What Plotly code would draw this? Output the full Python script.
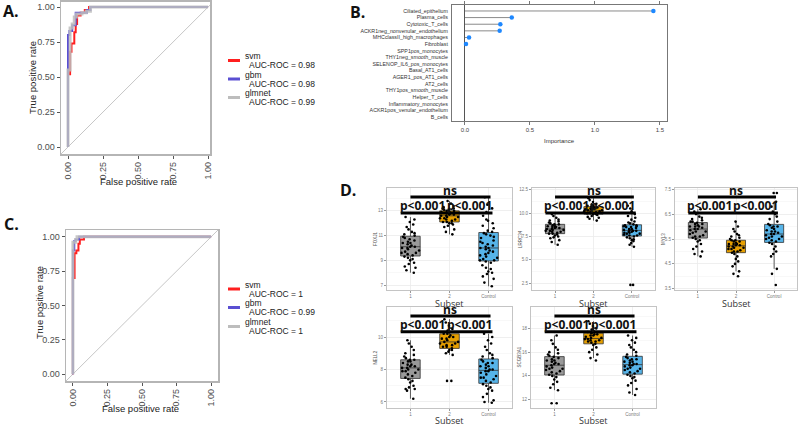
import plotly.graph_objects as go

W, H = 800, 426

# ---------------- Panels A / C : ROC curves ----------------
models = ["svm", "gbm", "glmnet"]
auc_A = ["0.98", "0.98", "0.99"]
auc_C = ["1", "0.99", "1"]

fpr_A_svm = [0, 0, 0.015, 0.025, 0.045, 0.055, 0.065, 0.09, 0.12, 0.15, 1.0]
tpr_A_svm = [0, 0.52, 0.68, 0.74, 0.82, 0.88, 0.94, 0.96, 0.98, 1.0, 1.0]
fpr_A_gbm = [0, 0, 0.01, 0.03, 0.055, 0.135, 0.16, 1.0]
tpr_A_gbm = [0, 0.80, 0.83, 0.87, 0.96, 0.98, 1.0, 1.0]
fpr_A_glmnet = [0, 0, 0.015, 0.03, 0.045, 0.06, 0.10, 0.13, 0.16, 1.0]
tpr_A_glmnet = [0, 0.55, 0.85, 0.88, 0.93, 0.95, 0.96, 0.97, 1.0, 1.0]

fpr_C_svm = [0, 0, 0.012, 0.025, 0.04, 0.05, 0.08, 1.0]
tpr_C_svm = [0, 0.70, 0.88, 0.90, 0.95, 0.98, 1.0, 1.0]
fpr_C_gbm = [0, 0, 0.01, 0.02, 0.045, 1.0]
tpr_C_gbm = [0, 0.90, 0.97, 0.98, 1.0, 1.0]
fpr_C_glmnet = [0, 0, 0.02, 0.03, 1.0]
tpr_C_glmnet = [0, 0.96, 0.98, 1.0, 1.0]

roc_ticks = [0, 0.25, 0.5, 0.75, 1.0]

# ---------------- Panel B : variable importance ----------------
cell_types = ["Ciliated_epithelium", "Plasma_cells", "Cytotoxic_T_cells",
              "ACKR1neg_nonvenular_endothelium", "MHCclassII_high_macrophages",
              "Fibroblast", "SPP1pos_monocytes", "THY1neg_smooth_muscle",
              "SELENOP_IL6_pos_monocytes", "Basal_AT1_cells", "AGER1_pos_AT1_cells",
              "AT2_cells", "THY1pos_smooth_muscle", "Helper_T_cells",
              "Inflammatory_monocytes", "ACKR1pos_venular_endothelium", "B_cells"]
importance = [1.45, 0.36, 0.272, 0.267, 0.031, 0.008, 0, 0, 0, 0, 0, 0, 0, 0, 0, 0, 0]
importance_ticks = [0.0, 0.5, 1.0, 1.5]

# ---------------- Panel D : expression box plots ----------------
genes = ["FOXJ1", "LRRC34", "MYL3", "NELL2", "SCGB3A1"]
subsets = ["1", "2", "Control"]

FOXJ1_1 = [8.0, 8.2, 8.4, 8.5, 8.7, 8.8, 9.0, 9.1, 9.2, 9.3, 9.4, 9.5, 9.6, 9.7, 9.8, 9.9, 10.0, 10.0,
           10.1, 10.1, 10.2, 10.3, 10.4, 10.5, 10.6, 10.7, 10.8, 10.9, 11.0, 11.1, 11.2, 11.3, 11.5,
           11.7, 11.9, 12.1, 12.3, 12.5, 9.6, 10.4]
FOXJ1_2 = [11.1, 11.3, 11.5, 11.7, 11.8, 11.9, 12.0, 12.1, 12.1, 12.2, 12.3, 12.4, 12.4, 12.5, 12.5,
           12.6, 12.6, 12.7, 12.7, 12.8, 12.8, 12.9, 13.0, 13.0, 13.1, 13.1, 13.2, 13.3, 13.4, 13.6,
           13.8, 12.3, 12.9, 12.0, 13.2]
FOXJ1_C = [6.9, 7.2, 7.5, 7.7, 7.9, 8.1, 8.3, 8.4, 8.6, 8.8, 8.9, 9.0, 9.1, 9.2, 9.3, 9.4, 9.5, 9.6,
           9.7, 9.8, 9.9, 10.0, 10.0, 10.1, 10.2, 10.3, 10.5, 10.6, 10.8, 10.9, 11.0, 11.2, 11.3, 11.4,
           11.6, 11.8, 12.0, 12.3, 12.6, 12.9, 13.2, 13.5, 14.1, 8.0, 9.0, 10.4, 11.1, 12.2]

LRRC34_1 = [6.6, 6.9, 7.1, 7.3, 7.5, 7.6, 7.7, 7.8, 7.8, 7.9, 8.0, 8.0, 8.1, 8.2, 8.2, 8.3, 8.3, 8.4,
            8.4, 8.5, 8.6, 8.6, 8.7, 8.8, 8.8, 8.9, 9.0, 9.1, 9.2, 9.3, 9.5, 9.7, 9.9, 8.1, 8.5, 7.4]
LRRC34_2 = [9.2, 9.4, 9.5, 9.6, 9.7, 9.8, 9.9, 10.0, 10.1, 10.1, 10.2, 10.3, 10.3, 10.4, 10.4, 10.5,
            10.6, 10.6, 10.7, 10.8, 10.9, 11.0, 11.2, 11.4, 11.6, 10.2, 10.5, 9.9, 10.8, 10.0]
LRRC34_C = [2.3, 2.3, 6.4, 6.6, 6.8, 7.0, 7.1, 7.2, 7.3, 7.4, 7.5, 7.6, 7.7, 7.8, 7.8, 7.9, 8.0, 8.0,
            8.1, 8.1, 8.2, 8.3, 8.3, 8.4, 8.5, 8.5, 8.6, 8.7, 8.7, 8.8, 8.9, 9.0, 9.1, 9.3, 9.5, 9.7,
            9.9, 10.2, 10.5, 10.8, 7.6, 8.2, 8.6, 7.9]

MYL3_1 = [4.8, 4.9, 5.0, 5.1, 5.2, 5.3, 5.4, 5.45, 5.5, 5.55, 5.6, 5.65, 5.7, 5.75, 5.8, 5.85, 5.9,
          5.9, 5.95, 6.0, 6.0, 6.05, 6.1, 6.1, 6.15, 6.2, 6.2, 6.25, 6.3, 6.35, 6.4, 6.5, 6.6, 5.8,
          6.0, 5.6, 6.7]
MYL3_2 = [4.0, 4.1, 4.2, 4.4, 4.5, 4.6, 4.7, 4.8, 4.9, 4.95, 5.0, 5.05, 5.1, 5.1, 5.15, 5.2, 5.2,
          5.25, 5.25, 5.3, 5.3, 5.35, 5.4, 5.4, 5.45, 5.5, 5.55, 5.6, 5.65, 5.7, 5.8, 5.9, 6.0, 6.2,
          5.3, 5.15, 5.0, 5.45]
MYL3_C = [3.65, 4.1, 4.3, 4.8, 4.9, 5.0, 5.1, 5.2, 5.3, 5.35, 5.4, 5.45, 5.5, 5.55, 5.6, 5.65, 5.7,
          5.7, 5.75, 5.8, 5.85, 5.9, 5.95, 6.0, 6.05, 6.1, 6.2, 6.3, 6.4, 6.5, 6.6, 6.8, 7.0, 7.35,
          7.35, 5.6, 5.8, 5.5, 6.0]

NELL2_1 = [6.2, 6.7, 6.8, 6.9, 7.0, 7.2, 7.3, 7.4, 7.5, 7.6, 7.7, 7.8, 7.9, 8.0, 8.0, 8.1, 8.1, 8.2,
           8.2, 8.3, 8.4, 8.5, 8.5, 8.6, 8.7, 8.8, 8.9, 9.0, 9.2, 9.4, 9.6, 9.8, 8.3, 7.9, 6.8, 8.6]
NELL2_2 = [7.3, 7.3, 8.9, 9.0, 9.1, 9.2, 9.2, 9.3, 9.4, 9.5, 9.5, 9.6, 9.7, 9.7, 9.8, 9.9, 10.0,
           10.1, 10.2, 10.2, 10.3, 10.4, 10.5, 10.7, 10.9, 11.1, 9.6, 9.9, 9.4, 10.0]
NELL2_C = [5.95, 6.1, 6.3, 6.5, 6.7, 6.8, 6.9, 7.0, 7.1, 7.2, 7.3, 7.4, 7.5, 7.6, 7.7, 7.8, 7.9, 8.0,
           8.0, 8.1, 8.2, 8.3, 8.4, 8.5, 8.6, 8.7, 8.8, 8.9, 9.0, 9.2, 9.4, 9.6, 9.8, 10.0, 10.2, 7.5,
           8.2, 7.9, 8.4, 6.0]

SCGB3A1_1 = [11.7, 11.7, 12.8, 13.0, 13.3, 13.5, 13.7, 13.9, 14.0, 14.1, 14.2, 14.3, 14.4, 14.5,
             14.6, 14.7, 14.8, 14.9, 15.0, 15.0, 15.1, 15.2, 15.3, 15.4, 15.5, 15.6, 15.7, 15.8,
             15.9, 16.0, 16.2, 16.4, 16.7, 17.0, 17.4, 15.3, 14.6]
SCGB3A1_2 = [15.3, 15.5, 15.8, 16.0, 16.2, 16.4, 16.6, 16.7, 16.8, 16.9, 17.0, 17.0, 17.1, 17.2,
             17.2, 17.3, 17.4, 17.5, 17.5, 17.6, 17.7, 17.8, 17.9, 18.0, 18.2, 18.4, 18.6, 17.1,
             17.4, 16.9]
SCGB3A1_C = [12.4, 12.6, 12.9, 13.2, 13.4, 13.6, 13.8, 13.9, 14.0, 14.1, 14.2, 14.3, 14.4, 14.5,
             14.6, 14.7, 14.8, 14.9, 15.0, 15.0, 15.1, 15.2, 15.3, 15.4, 15.5, 15.6, 15.7, 15.8,
             16.0, 16.2, 16.4, 16.6, 16.8, 17.0, 17.2, 17.4, 14.9, 15.2, 14.6, 15.4]

sig_labels = ["ns", "p<0.001", "p<0.001"]

# ---------------- styling / layout helpers ----------------
model_colors = ["#FF1F1F", "#5A4FD2", "#BDBDBD"]
model_widths = [2.0, 2.0, 3.0]
subset_colors = ["#999999", "#E69F00", "#56B4E9"]
FONT = "Liberation Sans"


def PX(x):
    return x / W


def PY(y):
    return 1 - y / H


fig = go.Figure()

# ROC panels
roc_sets = {
    "A": ([(fpr_A_svm, tpr_A_svm), (fpr_A_gbm, tpr_A_gbm), (fpr_A_glmnet, tpr_A_glmnet)], "x", "y"),
    "C": ([(fpr_C_svm, tpr_C_svm), (fpr_C_gbm, tpr_C_gbm), (fpr_C_glmnet, tpr_C_glmnet)], "x3", "y3"),
}
for key, (curves, xa, ya) in roc_sets.items():
    fig.add_trace(go.Scatter(x=[-0.2, 1.2], y=[-0.2, 1.2], mode="lines",
                             line=dict(color="#b8b8b8", width=0.8),
                             xaxis=xa, yaxis=ya, showlegend=False, hoverinfo="skip"))
    for i, (fx, ty) in enumerate(curves):
        fig.add_trace(go.Scatter(x=fx, y=ty, mode="lines", name=models[i],
                                 line=dict(color=model_colors[i], width=model_widths[i], shape="hv"),
                                 opacity=0.85 if i == 2 else 1.0,
                                 xaxis=xa, yaxis=ya, showlegend=False))

# Importance panel (lollipops)
seg_x, seg_y = [], []
for c, v in zip(cell_types, importance):
    seg_x += [0, v, None]
    seg_y += [c, c, None]
fig.add_trace(go.Scatter(x=seg_x, y=seg_y, mode="lines", line=dict(color="#8a8a8a", width=1),
                         xaxis="x2", yaxis="y2", showlegend=False, hoverinfo="skip"))
pos = [(c, v) for c, v in zip(cell_types, importance) if v > 0]
fig.add_trace(go.Scatter(x=[p[1] for p in pos], y=[p[0] for p in pos], mode="markers",
                         marker=dict(color="#1E88FF", size=4.5),
                         xaxis="x2", yaxis="y2", showlegend=False))

# Box plots
gene_groups = {
    "FOXJ1": [FOXJ1_1, FOXJ1_2, FOXJ1_C],
    "LRRC34": [LRRC34_1, LRRC34_2, LRRC34_C],
    "MYL3": [MYL3_1, MYL3_2, MYL3_C],
    "NELL2": [NELL2_1, NELL2_2, NELL2_C],
    "SCGB3A1": [SCGB3A1_1, SCGB3A1_2, SCGB3A1_C],
}
for k, g in enumerate(genes):
    n = 4 + k
    for j, s in enumerate(subsets):
        vals = gene_groups[g][j]
        fig.add_trace(go.Box(x=[s] * len(vals), y=vals, name=s,
                             xaxis=f"x{n}", yaxis=f"y{n}",
                             boxpoints="all", jitter=1.0, pointpos=0, width=0.5,
                             whiskerwidth=0, fillcolor=subset_colors[j],
                             line=dict(color="#333333", width=0.8),
                             marker=dict(color="black", size=2.6),
                             showlegend=False))

layout = dict(
    width=W, height=H, autosize=False,
    margin=dict(l=0, r=0, t=0, b=0, pad=0),
    paper_bgcolor="white", plot_bgcolor="white",
    font=dict(family=FONT, color="#222"),
    showlegend=False, boxmode="overlay",
)

# ROC axes
roc_axes = {
    "A": ("xaxis", "yaxis", "x", "y", (61, 210), (1.5, 154), [-0.05, 1.014], [-0.05, 1.04]),
    "C": ("xaxis3", "yaxis3", "x3", "y3", (66, 218), (230, 381), [-0.05, 1.05], [-0.05, 1.05]),
}
for key, (xn, yn, xa, ya, (x0, x1), (y0, y1), xr, yr) in roc_axes.items():
    common = dict(showline=True, mirror=True, linecolor="#b5b5b5", linewidth=1.5,
                  showgrid=False, zeroline=False, ticks="outside", ticklen=3,
                  tickcolor="#555", tickvals=roc_ticks, tickformat=".2f", automargin=False,
                  tickfont=dict(size=9, color="#4d4d4d", family=FONT))
    layout[xn] = dict(common, domain=[PX(x0), PX(x1)], anchor=ya, range=xr, tickangle=-90)
    layout[yn] = dict(common, domain=[PY(y1), PY(y0)], anchor=xa, range=yr)

# Importance axes
layout["xaxis2"] = dict(domain=[PX(452), PX(667)], anchor="y2", range=[-0.1, 1.555],
                        tickvals=importance_ticks, tickformat=".1f", automargin=False,
                        showline=True, mirror="ticks", linecolor="#777", linewidth=1,
                        ticks="outside", ticklen=3, tickcolor="#777",
                        showgrid=False, zeroline=True, zerolinecolor="#555", zerolinewidth=1,
                        tickfont=dict(size=6, color="#444"))
layout["yaxis2"] = dict(domain=[PY(121), PY(5)], anchor="x2", type="category",
                        categoryorder="array", categoryarray=cell_types,
                        range=[len(cell_types) - 0.4, -0.9], automargin=False,
                        showline=True, mirror=True, linecolor="#777", linewidth=1,
                        ticks="", showgrid=False, ticklabelstandoff=2,
                        tickfont=dict(size=5.3, color="#333"))

# Box plot axes
D_boxes = [(387, 512, 188, 290), (532, 655, 188, 290), (675, 797, 188, 290),
           (387, 512, 307, 408), (531, 656, 307, 408)]
D_yranges = [(6.6, 14.85), (1.75, 12.7), (3.45, 7.55), (5.63, 11.85), (11.3, 19.8)]
D_ticks = [(7, 2, "d"), (2.5, 2.5, ".1f"), (3.5, 1, ".1f"), (6, 2, "d"), (12, 2, "d")]
for k in range(5):
    n = 4 + k
    x0, x1, y0, y1 = D_boxes[k]
    t0, dt, fmt = D_ticks[k]
    base = dict(showline=True, mirror=True, linecolor="#c4c4c4", linewidth=1,
                showgrid=True, gridcolor="#ebebeb", gridwidth=0.8, zeroline=False,
                ticks="outside", ticklen=2, tickcolor="#999", automargin=False,
                tickfont=dict(size=4.5, color="#777"))
    layout[f"xaxis{n}"] = dict(base, domain=[PX(x0), PX(x1)], anchor=f"y{n}", type="category",
                               categoryorder="array", categoryarray=subsets, range=[-0.6, 2.6])
    layout[f"yaxis{n}"] = dict(base, domain=[PY(y1), PY(y0)], anchor=f"x{n}",
                               range=list(D_yranges[k]), tick0=t0, dtick=dt, tickformat=fmt,
                               minor=dict(tick0=t0, dtick=dt / 2, showgrid=True,
                                          gridcolor="#f4f4f4", gridwidth=0.6))

shapes = []
annotations = []


def note(**kw):
    kw.setdefault("xanchor", "center")
    kw.setdefault("yanchor", "middle")
    kw.setdefault("showarrow", False)
    annotations.append(kw)


# panel letters
for lab, (x, y) in {"A.": (1, 11), "B.": (348, 12), "C.": (2, 224), "D.": (338, 190)}.items():
    note(text=f"<b>{lab}</b>", x=PX(x), y=PY(y), xref="paper", yref="paper", xanchor="left",
         font=dict(family="Open Sans", size=16, color="#111"))

# ROC axis titles
for (xt, yt), (yx, yy) in [((138, 182), (33, 78)), ((140, 408), (39, 303))]:
    note(text="False positive rate", x=PX(xt), y=PY(yt), xref="paper", yref="paper",
         font=dict(size=9.5, color="#222"))
    note(text="True positive rate", x=PX(yx), y=PY(yy), xref="paper", yref="paper",
         textangle=-90, font=dict(size=9.5, color="#222"))

# ROC legends (manual)
for aucs, ys in [(auc_A, (60.5, 79, 97.5)), (auc_C, (289, 307.5, 326.5))]:
    for i, m in enumerate(models):
        shapes.append(dict(type="line", xref="paper", yref="paper",
                           x0=PX(228), x1=PX(240), y0=PY(ys[i]), y1=PY(ys[i]),
                           line=dict(color=model_colors[i], width=3)))
        note(text=m, x=PX(243), y=PY(ys[i] - 4.5), xref="paper", yref="paper", xanchor="left",
             font=dict(size=8.5, color="#222"))
        note(text=f"AUC-ROC = {aucs[i]}", x=PX(246.5), y=PY(ys[i] + 4.5), xref="paper",
             yref="paper", xanchor="left", font=dict(size=8.5, color="#222"))

# importance x title
note(text="Importance", x=PX(559), y=PY(141), xref="paper", yref="paper",
     font=dict(size=6, color="#333"))

# box plot titles & significance
for k, g in enumerate(genes):
    n = 4 + k
    note(text=g, xref=f"x{n} domain", yref=f"y{n} domain", x=0, y=0.5, xshift=-12,
         textangle=-90, font=dict(size=4.5, color="#555"))
    note(text="Subset", xref=f"x{n} domain", yref=f"y{n} domain", x=0.5, y=0,
         yshift=-13.5 if k < 3 else -12.5, font=dict(family="Open Sans", size=9, color="#333"))
    # bars
    shapes.append(dict(type="line", xref=f"x{n}", yref=f"y{n} domain", x0=0, x1=2.05,
                       y0=0.912, y1=0.912, line=dict(color="black", width=3)))
    shapes.append(dict(type="line", xref=f"x{n}", yref=f"y{n} domain", x0=-0.25, x1=2.1,
                       y0=0.755, y1=0.755, line=dict(color="black", width=3)))
    for lab, xc, yc in zip(sig_labels, [1.0, 0.3, 1.5], [0.975, 0.83, 0.83]):
        note(text=f"<b>{lab}</b>", xref=f"x{n}", yref=f"y{n} domain", x=xc, y=yc,
             font=dict(family="Open Sans", size=12, color="#111"))

layout["shapes"] = shapes
layout["annotations"] = annotations
fig.update_layout(**layout)
fig.write_html("out.html", config={"displayModeBar": False, "staticPlot": True},
               post_script="document.body.style.margin='0';document.body.style.padding='0';"
                           "document.body.style.overflow='hidden';")
